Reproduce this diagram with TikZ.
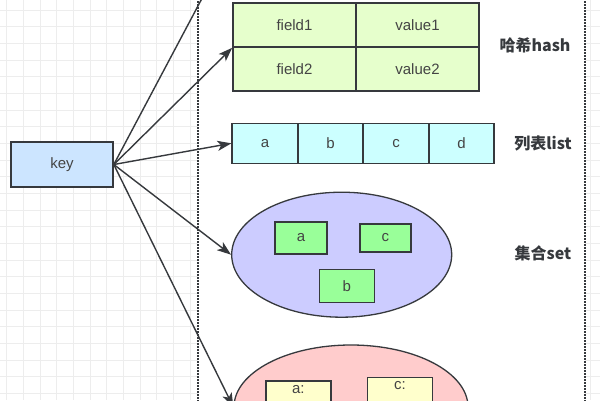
\documentclass[tikz,border=0pt]{standalone}
\usepackage{fontspec}
\setmainfont{Liberation Sans}
\newfontfamily\cjk{Noto Sans CJK SC}
\usetikzlibrary{arrows.meta,shapes.geometric}
\definecolor{ln}{HTML}{36393D}
\definecolor{txt}{HTML}{444444}
\definecolor{gridc}{HTML}{EDEDED}
\definecolor{keyc}{HTML}{CCE5FF}
\definecolor{hashc}{HTML}{E6FFCC}
\definecolor{listc}{HTML}{CCFFFF}
\definecolor{setc}{HTML}{CCCCFF}
\definecolor{setin}{HTML}{99FF99}
\definecolor{zsetc}{HTML}{FFCCCC}
\definecolor{zsetin}{HTML}{FFFFCC}
\begin{document}
\begin{tikzpicture}[x=1pt,y=-1pt,
  box/.style={draw=ln,line width=1.6pt,rectangle,inner sep=0pt,text=txt,
    font=\fontsize{15}{17}\selectfont},
  oval/.style={draw=ln,line width=1.3pt,ellipse,inner sep=0pt},
  lab/.style={text=ln,font=\cjk\bfseries\fontsize{16}{19}\selectfont},
  conn/.style={draw=ln,line width=1.4pt,-{Stealth[length=14pt,width=10pt,inset=3.5pt]}},
  sep/.style={draw=ln,line width=1.7pt,dash pattern=on 1.5pt off 1.5pt}]
\useasboundingbox (0,0) rectangle (600,400);
\begin{scope}
\clip (0,0) rectangle (600,400);
% grid background
\foreach \i in {0,...,36} \draw[gridc,line width=0.8pt] (6.67+16.667*\i,0) -- ++(0,400);
\foreach \i in {0,...,24} \draw[gridc,line width=0.8pt] (0,10+16.667*\i) -- ++(600,0);
\fill[white] (198,-5) rectangle (585,405);
\draw[sep] (198,-5) -- (198,405);
\draw[sep] (585,-5) -- (585,405);

% key
\node[box,fill=keyc,minimum width=102pt,minimum height=45pt] (key) at (62,164.5) {key};

% hash
\node[box,fill=hashc,minimum width=123pt,minimum height=44pt] (hf1) at (294.5,25) {field1};
\node[box,fill=hashc,minimum width=123pt,minimum height=44pt] (hv1) at (417.5,25) {value1};
\node[box,fill=hashc,minimum width=123pt,minimum height=44pt] (hf2) at (294.5,69) {field2};
\node[box,fill=hashc,minimum width=123pt,minimum height=44pt] (hv2) at (417.5,69) {value2};
\node[lab] (lhash) at (535,45) {哈希hash};

% list
\node[box,fill=listc,minimum width=65.5pt,minimum height=40pt] (la) at (265,143.3) {a};
\node[box,fill=listc,minimum width=65.5pt,minimum height=40pt] (lb) at (330.5,143.3) {b};
\node[box,fill=listc,minimum width=65.5pt,minimum height=40pt] (lc) at (396,143.3) {c};
\node[box,fill=listc,minimum width=65.5pt,minimum height=40pt] (ld) at (461.5,143.3) {d};
\node[lab] (llist) at (543,143) {列表list};

% set
\node[oval,fill=setc,minimum width=220pt,minimum height=125pt] (set) at (341.7,254.7) {};
\node[box,fill=setin,minimum width=52pt,minimum height=32pt] (sa) at (301,238) {a};
\node[box,fill=setin,minimum width=51pt,minimum height=28pt] (sc) at (385.3,237.8) {c};
\node[box,fill=setin,minimum width=55pt,minimum height=33pt] (sb) at (346.8,286) {b};
\node[lab] (lset) at (543,253) {集合set};

% zset
\node[oval,fill=zsetc,minimum width=234pt,minimum height=124pt] (zset) at (351,407) {};
\node[box,fill=zsetin,minimum width=65pt,minimum height=44pt] (za) at (298.3,403) {};
\node[box,fill=zsetin,minimum width=65pt,minimum height=44pt] (zc) at (400,399.3) {};
\node[text=txt,font=\fontsize{15}{17}\selectfont,anchor=north,inner sep=0pt] (zat) at ([yshift=-5pt]za.north) {a:};
\node[text=txt,font=\fontsize{15}{17}\selectfont,anchor=north,inner sep=0pt] (zct) at ([yshift=-5pt]zc.north) {c:};

% connectors
\coordinate (strtop) at (216,-28);
\coordinate (hmid) at (hf1.south west);
\draw[conn] (key.east) -- (strtop);
\draw[conn] (key.east) -- (hmid);
\draw[conn] (key.east) -- (la.west);
\draw[conn] (key.east) -- (set.west);
\draw[conn] (key.east) -- (zset.west);
\end{scope}
\end{tikzpicture}
\end{document}
